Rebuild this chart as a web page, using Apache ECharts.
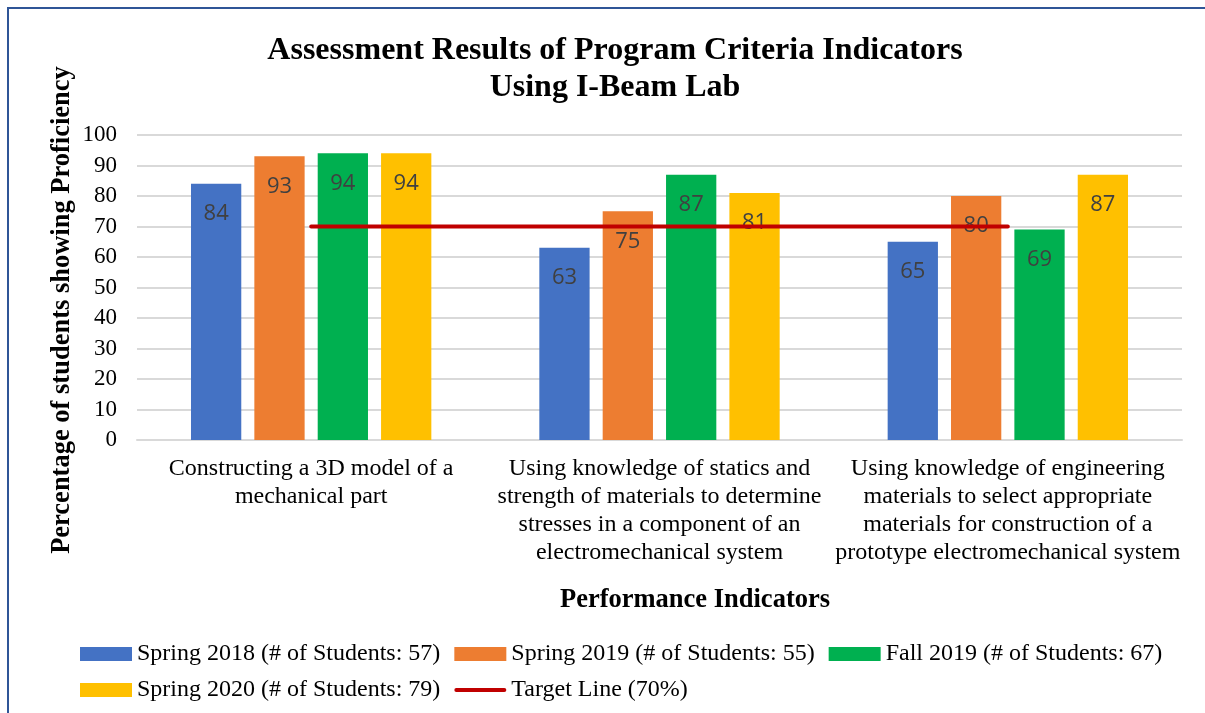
<!DOCTYPE html>
<html>
<head>
<meta charset="utf-8">
<script src="https://cdn.jsdelivr.net/npm/echarts@6/dist/echarts.min.js"></script>
<style>
  html, body { margin: 0; padding: 0; background: #fff; }
  #chart { width: 1205px; height: 713px; }
</style>
</head>
<body>
<div id="chart"></div>
<script>
// data
const categories = [
  'Constructing a 3D model of a\nmechanical part',
  'Using knowledge of statics and\nstrength of materials to determine\nstresses in a component of an\nelectromechanical system',
  'Using knowledge of engineering\nmaterials to select appropriate\nmaterials for construction of a\nprototype electromechanical system'
]
const spring2018 = [84, 63, 65]
const spring2019 = [93, 75, 80]
const fall2019 = [94, 87, 69]
const spring2020 = [94, 81, 87]
const targetLine = [70, 70, 70]

const seriesNames = [
  'Spring 2018 (# of Students: 57)',
  'Spring 2019 (# of Students: 55)',
  'Fall 2019 (# of Students: 67)',
  'Spring 2020 (# of Students: 79)',
  'Target Line (70%)'
]

const serif = '"Liberation Serif", "Times New Roman", serif'
// thin line with round ends for the target line legend entry (moveTo corners keep the box 52x14)
const lineIcon = 'path://M0,0 M52,14 M2,5 L50,5 A2,2 0 0 1 50,9 L2,9 A2,2 0 0 1 2,5 Z'

const chart = echarts.init(document.getElementById('chart'))

function barSeries (name, color, data) {
  return {
    name: name,
    type: 'bar',
    barGap: '26%',
    barCategoryGap: '31%',
    itemStyle: { color: color },
    label: {
      show: true,
      position: 'insideTop',
      distance: 19,
      color: '#404040',
      fontSize: 22,
      fontFamily: '"Open Sans", "Noto Sans", sans-serif'
    },
    data: data
  }
}

const legendText = { fontFamily: serif, fontSize: 24, color: '#000' }

chart.setOption({
  backgroundColor: '#ffffff',
  animation: false,
  title: {
    text: 'Assessment Results of Program Criteria Indicators\nUsing I-Beam Lab',
    left: 610,
    top: 27,
    textAlign: 'center',
    textStyle: {
      fontFamily: serif,
      fontWeight: 'bold',
      fontSize: 32,
      lineHeight: 37,
      color: '#000'
    }
  },
  graphic: [
    {
      type: 'rect',
      shape: { x: 8, y: 8, width: 1210, height: 720 },
      style: { fill: 'none', stroke: '#2F5597', lineWidth: 2 },
      silent: true
    },
    {
      type: 'text',
      x: 62,
      y: 310,
      rotation: Math.PI / 2,
      style: {
        text: 'Percentage of students showing Proficiency',
        textAlign: 'center',
        textVerticalAlign: 'middle',
        font: 'bold 26.5px ' + serif,
        fill: '#000'
      }
    },
    {
      type: 'text',
      x: 695,
      y: 600,
      style: {
        text: 'Performance Indicators',
        textAlign: 'center',
        textVerticalAlign: 'middle',
        font: 'bold 26.5px ' + serif,
        fill: '#000'
      }
    }
  ],
  legend: [
    {
      left: 80,
      top: 642,
      padding: 0,
      itemWidth: 52,
      itemHeight: 14,
      itemGap: 14,
      icon: 'rect',
      data: seriesNames.slice(0, 3),
      textStyle: legendText
    },
    {
      left: 80,
      top: 678,
      padding: 0,
      itemWidth: 52,
      itemHeight: 14,
      itemGap: 14,
      data: [
        { name: seriesNames[3], icon: 'rect' },
        { name: seriesNames[4], icon: lineIcon }
      ],
      textStyle: legendText
    }
  ],
  grid: {
    left: 137,
    right: 23,
    top: 135,
    bottom: 273
  },
  xAxis: {
    type: 'category',
    data: categories,
    axisTick: { show: false },
    axisLine: { lineStyle: { color: '#d9d9d9', width: 2 } },
    axisLabel: {
      interval: 0,
      margin: 15,
      fontFamily: serif,
      fontSize: 24,
      lineHeight: 28,
      color: '#000'
    }
  },
  yAxis: {
    type: 'value',
    min: 0,
    max: 100,
    interval: 10,
    axisLine: { show: false },
    axisTick: { show: false },
    axisLabel: {
      margin: 20,
      fontFamily: serif,
      fontSize: 23,
      color: '#000'
    },
    splitLine: { lineStyle: { color: '#d9d9d9', width: 2 } }
  },
  series: [
    barSeries(seriesNames[0], '#4472C4', spring2018),
    barSeries(seriesNames[1], '#ED7D31', spring2019),
    barSeries(seriesNames[2], '#00B050', fall2019),
    barSeries(seriesNames[3], '#FFC000', spring2020),
    {
      name: seriesNames[4],
      type: 'line',
      symbol: 'none',
      color: '#C00000',
      lineStyle: { color: '#C00000', width: 4, cap: 'round' },
      data: targetLine
    }
  ]
})
</script>
</body>
</html>
